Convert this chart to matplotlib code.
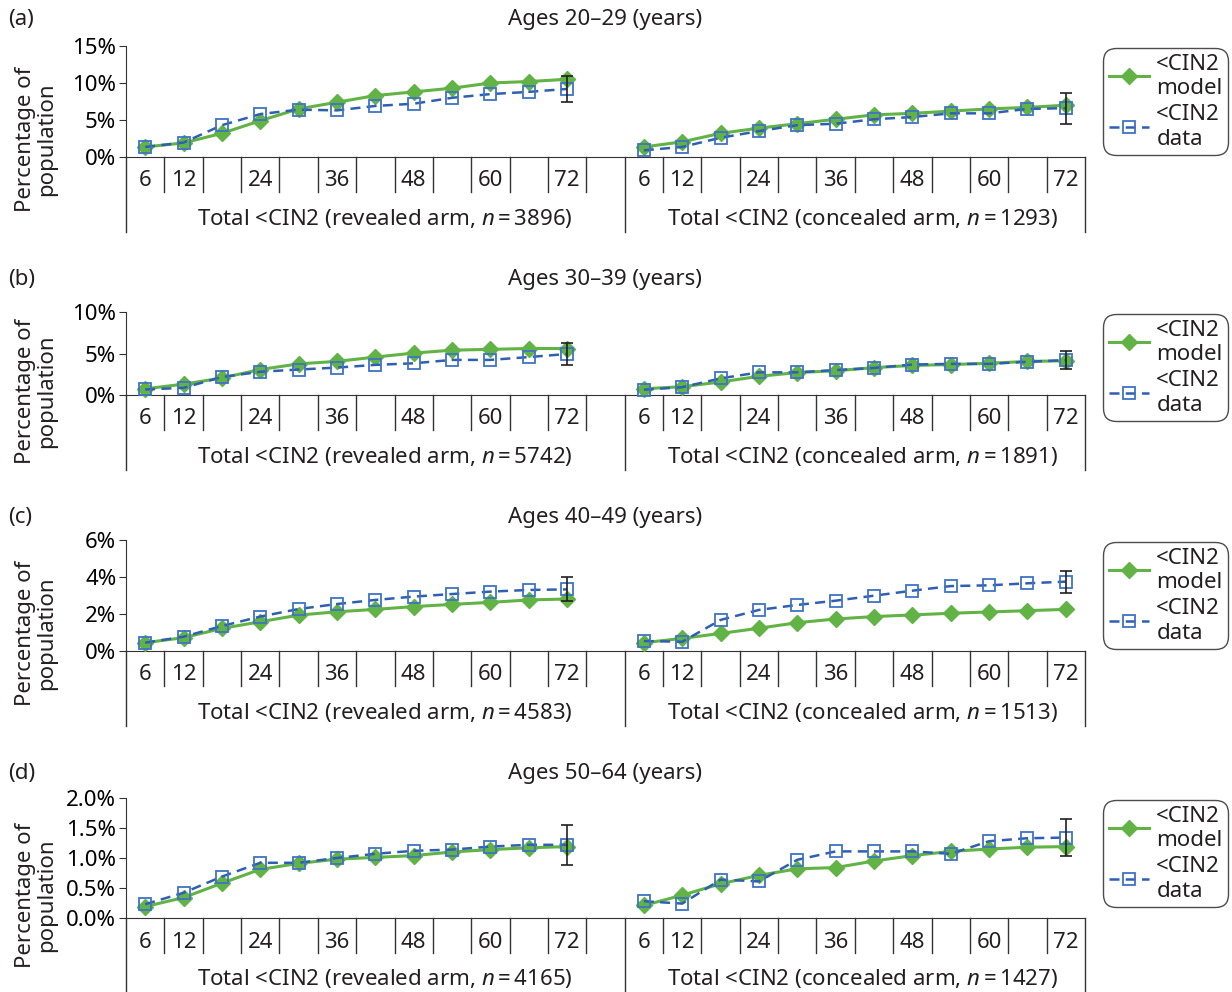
import matplotlib
matplotlib.use("Agg")
import matplotlib.pyplot as plt
from matplotlib.transforms import blended_transform_factory
from matplotlib.lines import Line2D

plt.rcParams['font.family'] = ['Noto Sans', 'DejaVu Sans']
plt.rcParams['mathtext.fontset'] = 'custom'
plt.rcParams['mathtext.rm'] = 'Noto Sans'
plt.rcParams['mathtext.it'] = 'Noto Sans:italic'
plt.rcParams['text.color'] = '#231f20'

# ---- data (percentage of population, months 6..72) ----
months = [6, 12, 18, 24, 30, 36, 42, 48, 54, 60, 66, 72]
month_labels = ['6', '12', '', '24', '', '36', '', '48', '', '60', '', '72']

panel_letters = ['(a)', '(b)', '(c)', '(d)']
age_titles = ['Ages 20\u201329 (years)', 'Ages 30\u201339 (years)',
              'Ages 40\u201349 (years)', 'Ages 50\u201364 (years)']
n_revealed = [3896, 5742, 4583, 4165]
n_concealed = [1293, 1891, 1513, 1427]

a_rev_model = [1.36, 1.9, 3.2, 4.9, 6.5, 7.4, 8.3, 8.8, 9.3, 10.0, 10.2, 10.5]
a_rev_data = [1.36, 1.95, 4.3, 5.8, 6.4, 6.3, 6.9, 7.2, 8.0, 8.5, 8.8, 9.2]
a_con_model = [1.36, 2.05, 3.2, 3.9, 4.5, 5.1, 5.7, 5.9, 6.2, 6.5, 6.7, 7.0]
a_con_data = [0.9, 1.36, 2.6, 3.5, 4.3, 4.5, 5.1, 5.4, 5.9, 5.9, 6.5, 6.6]

b_rev_model = [0.75, 1.3, 2.05, 3.07, 3.75, 4.05, 4.57, 5.05, 5.4, 5.5, 5.6, 5.6]
b_rev_data = [0.67, 0.86, 2.17, 2.8, 3.07, 3.3, 3.63, 3.82, 4.23, 4.23, 4.57, 4.94]
b_con_model = [0.75, 1.0, 1.57, 2.25, 2.7, 2.92, 3.3, 3.56, 3.67, 3.82, 4.05, 4.12]
b_con_data = [0.64, 0.94, 2.0, 2.73, 2.73, 3.0, 3.26, 3.67, 3.75, 3.75, 4.0, 4.2]

c_rev_model = [0.45, 0.72, 1.22, 1.58, 1.94, 2.12, 2.25, 2.4, 2.52, 2.63, 2.76, 2.81]
c_rev_data = [0.45, 0.77, 1.35, 1.86, 2.27, 2.54, 2.76, 2.94, 3.08, 3.21, 3.3, 3.33]
c_con_model = [0.45, 0.68, 0.95, 1.23, 1.53, 1.73, 1.86, 1.95, 2.04, 2.11, 2.18, 2.25]
c_con_data = [0.54, 0.5, 1.68, 2.22, 2.49, 2.72, 2.99, 3.26, 3.51, 3.55, 3.66, 3.75]

d_rev_model = [0.19, 0.34, 0.58, 0.81, 0.91, 0.98, 1.01, 1.04, 1.1, 1.14, 1.17, 1.19]
d_rev_data = [0.23, 0.42, 0.69, 0.92, 0.92, 1.0, 1.07, 1.12, 1.14, 1.19, 1.22, 1.22]
d_con_model = [0.21, 0.38, 0.57, 0.71, 0.82, 0.84, 0.95, 1.04, 1.11, 1.15, 1.18, 1.19]
d_con_data = [0.28, 0.24, 0.64, 0.61, 0.97, 1.11, 1.11, 1.11, 1.07, 1.28, 1.33, 1.34]

# error bar half-widths on the 72-month data point
err_rev = [1.8, 1.38, 0.65, 0.33]
err_con = [2.1, 1.1, 0.6, 0.31]

y_max = [15, 10, 6, 2.0]
y_ticks = [[0, 5, 10, 15], [0, 5, 10], [0, 2, 4, 6], [0, 0.5, 1.0, 1.5, 2.0]]
y_fmt = ['{:.0f}%', '{:.0f}%', '{:.0f}%', '{:.1f}%']

rev_model = [a_rev_model, b_rev_model, c_rev_model, d_rev_model]
rev_data = [a_rev_data, b_rev_data, c_rev_data, d_rev_data]
con_model = [a_con_model, b_con_model, c_con_model, d_con_model]
con_data = [a_con_data, b_con_data, c_con_data, d_con_data]

# ---- layout (pixels) ----
W, H = 1232, 992
X0, X1 = 126, 1085
title_y = [20, 280, 517, 773]
top_y = [46, 312, 540, 798]
base_y = [157, 395, 651, 918]
FS = 16
GREEN = '#62b346'
BLUE = '#2f5fb3'
BLUE_M = '#3f73c6'
AX_C = '#333333'

fig = plt.figure(figsize=(W / 100, H / 100), dpi=100)

x_rev = list(range(12))
x_con = [13 + i for i in range(12)]

for p in range(4):
    top, base = top_y[p], base_y[p]
    hpx = base - top
    ax = fig.add_axes([X0 / W, 1 - base / H, (X1 - X0) / W, hpx / H])
    ax.set_xlim(-0.5, 24.5)
    ax.set_ylim(0, y_max[p])
    for s in ['top', 'right']:
        ax.spines[s].set_visible(False)
    ax.spines['left'].set_color(AX_C)
    ax.spines['bottom'].set_color(AX_C)
    ax.set_xticks([])
    ax.set_yticks(y_ticks[p])
    ax.set_yticklabels([y_fmt[p].format(v) for v in y_ticks[p]], fontsize=FS)
    ax.tick_params(axis='y', length=5, color=AX_C, pad=2)

    for xs, mod, dat, err in [(x_rev, rev_model[p], rev_data[p], err_rev[p]),
                              (x_con, con_model[p], con_data[p], err_con[p])]:
        ax.plot(xs, mod, color=GREEN, lw=2.2, marker='D', ms=8,
                mfc=GREEN, mec=GREEN, zorder=3, clip_on=False)
        ax.plot(xs, dat, color=BLUE, lw=1.8, ls=(0, (4, 2.5)), marker='s', ms=9,
                mfc='none', mec=BLUE_M, mew=1.3, zorder=4, clip_on=False)
        ax.errorbar([xs[-1]], [dat[-1]], yerr=[err], fmt='none', ecolor='#231f20',
                    elinewidth=1.2, capsize=4, capthick=1.2, zorder=5, clip_on=False)

    tr = blended_transform_factory(ax.transData, ax.transAxes)
    short = -35 / hpx
    long = -75 / hpx
    # category separators
    for k in range(25):
        xb = k + 0.5
        if xb in (12.5, 24.5):
            continue
        ax.plot([xb, xb], [0, short], color=AX_C, lw=1, transform=tr, clip_on=False)
    for xb in (-0.5, 12.5, 24.5):
        ax.plot([xb, xb], [0, long], color=AX_C, lw=1, transform=tr, clip_on=False)

    lab_y = -24 / hpx
    for xs in (x_rev, x_con):
        for xi, lab in zip(xs, month_labels):
            ax.text(xi, lab_y, lab, transform=tr, ha='center', va='center', fontsize=FS)
    grp_y = -61 / hpx
    ax.text(6.25, grp_y, 'Total <CIN2 (revealed arm, $n$\u2009=\u2009%d)' % n_revealed[p],
            transform=tr, ha='center', va='center', fontsize=FS)
    ax.text(18.7, grp_y, 'Total <CIN2 (concealed arm, $n$\u2009=\u2009%d)' % n_concealed[p],
            transform=tr, ha='center', va='center', fontsize=FS)

    fig.text(8 / W, 1 - title_y[p] / H, panel_letters[p], ha='left', va='center', fontsize=FS)
    fig.text(605 / W, 1 - title_y[p] / H, age_titles[p], ha='center', va='center', fontsize=FS)
    fig.text(36 / W, 1 - (top + base + 75) / 2 / H, 'Percentage of\npopulation',
             rotation=90, ha='center', va='center', fontsize=FS, linespacing=1.05)

    handles = [Line2D([], [], color=GREEN, lw=2.2, marker='D', ms=8, mfc=GREEN, mec=GREEN),
               Line2D([], [], color=BLUE, lw=1.8, ls=(0, (4, 2.5)), marker='s', ms=9,
                      mfc='none', mec=BLUE_M, mew=1.3)]
    leg = fig.legend(handles, ['<CIN2\nmodel', '<CIN2\ndata'], loc='upper left',
                     bbox_to_anchor=(1103 / W, 1 - (top + 2) / H), fontsize=FS,
                     frameon=True, fancybox=True, handlelength=1.8, handletextpad=0.35,
                     labelspacing=0.25, borderpad=0.25, borderaxespad=0)
    leg.get_frame().set_edgecolor('#231f20')
    leg.get_frame().set_linewidth(1.0)
    leg.get_frame().set_boxstyle('round,pad=0,rounding_size=0.6')

fig.savefig('out.png', dpi=100)
